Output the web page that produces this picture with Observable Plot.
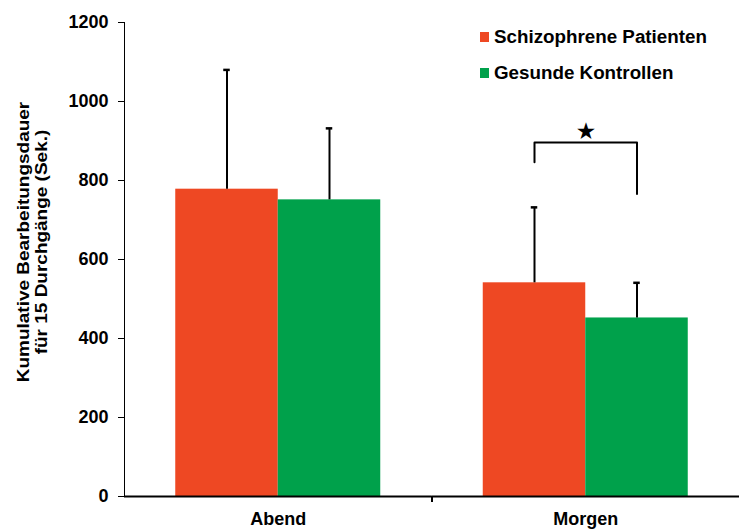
<!DOCTYPE html>
<html>
<head>
<meta charset="utf-8">
<script src="https://cdn.jsdelivr.net/npm/d3@7"></script>
<script src="https://cdn.jsdelivr.net/npm/@observablehq/plot@0.6"></script>
<style>
  html, body { margin: 0; padding: 0; background: #fff; }
  #wrap { position: relative; width: 739px; height: 529px; font-family: "Liberation Sans", Arial, sans-serif; font-weight: bold; color: #000; }
  #ytitle { position: absolute; left: 32px; top: 242px; transform: translate(-50%, -50%) rotate(-90deg) scaleX(1.15); white-space: nowrap; text-align: center; font-size: 16.5px; line-height: 18px; }
  #legend { position: absolute; left: 480px; top: 26px; font-size: 18.8px; }
  .item { display: flex; align-items: center; height: 22px; margin-bottom: 14px; white-space: nowrap; }
  .sw { width: 9px; height: 10px; margin-right: 5px; }
</style>
</head>
<body>
<div id="wrap">
  <div id="chart"></div>
  <div id="ytitle">Kumulative Bearbeitungsdauer<br>für 15 Durchgänge (Sek.)</div>
  <div id="legend"></div>
</div>
<script>
const categories = ["Abend", "Morgen"];
const groups = ["Schizophrene Patienten", "Gesunde Kontrollen"];
const colors = ["#ee4823", "#00a14b"];
const schizoMeans = [778, 541];
const schizoSD = [302, 191];
const controlMeans = [751, 452];
const controlSD = [181, 89];
const yTicks = [0, 200, 400, 600, 800, 1000, 1200];
const bracketGroups = ["Schizophrene Patienten", "Schizophrene Patienten", "Gesunde Kontrollen", "Gesunde Kontrollen"];
const bracketValues = [846, 896, 896, 766];
const bracketCategory = "Morgen";
const starValue = 924;

const data = [];
categories.forEach((c, i) => {
  data.push({cat: c, group: groups[0], mean: schizoMeans[i], sd: schizoSD[i]});
  data.push({cat: c, group: groups[1], mean: controlMeans[i], sd: controlSD[i]});
});
const bracket = bracketGroups.map((g, i) => ({cat: bracketCategory, group: g, v: bracketValues[i]}));

const W = 739, ML = 124, MR = 0;
const facetW = (W - ML - MR) / categories.length;

const chart = Plot.plot({
  width: W, height: 529,
  marginLeft: ML, marginRight: MR, marginTop: 22, marginBottom: 33,
  style: {fontFamily: "'Liberation Sans', Arial, sans-serif", fontWeight: "bold", fontSize: "18px", color: "#000", background: "#fff"},
  fx: {domain: categories, padding: 0, label: null, round: false},
  x: {domain: groups, paddingInner: 0, paddingOuter: 0.5, axis: null, round: false},
  y: {domain: [0, 1200], ticks: yTicks, tickFormat: d => String(d), label: null, line: true, tickSize: 6, tickPadding: 10},
  color: {domain: groups, range: colors},
  marks: [
    Plot.barY(data, {fx: "cat", x: "group", y: "mean", fill: "group"}),
    Plot.ruleX(data, {fx: "cat", x: "group", y1: "mean", y2: d => d.mean + d.sd, stroke: "#000", strokeWidth: 2}),
    Plot.tickY(data, {fx: "cat", x: "group", y: d => d.mean + d.sd, stroke: "#000", strokeWidth: 2.5, insetLeft: 48, insetRight: 48}),
    Plot.ruleY([0], {stroke: "#000", strokeWidth: 2}),
    Plot.line(bracket, {fx: "cat", x: "group", y: "v", stroke: "#000", strokeWidth: 2}),
    Plot.text([{cat: bracketCategory, v: starValue}], {fx: "cat", y: "v", text: () => "★", fontSize: 20, fill: "#000"}),
    Plot.axisFx({anchor: "bottom", tickSize: 0, tickPadding: 16, label: null}),
    Plot.axisFx({anchor: "bottom", ticks: ["Morgen"], tickSize: 6, dx: -facetW / 2, tickFormat: () => "", label: null, strokeWidth: 2})
  ]
});
document.getElementById("chart").appendChild(chart);

const legend = document.getElementById("legend");
groups.forEach((g, i) => {
  const item = document.createElement("div");
  item.className = "item";
  const sw = document.createElement("span");
  sw.className = "sw";
  sw.style.background = colors[i];
  const t = document.createElement("span");
  t.textContent = g;
  item.appendChild(sw);
  item.appendChild(t);
  legend.appendChild(item);
});
</script>
</body>
</html>
